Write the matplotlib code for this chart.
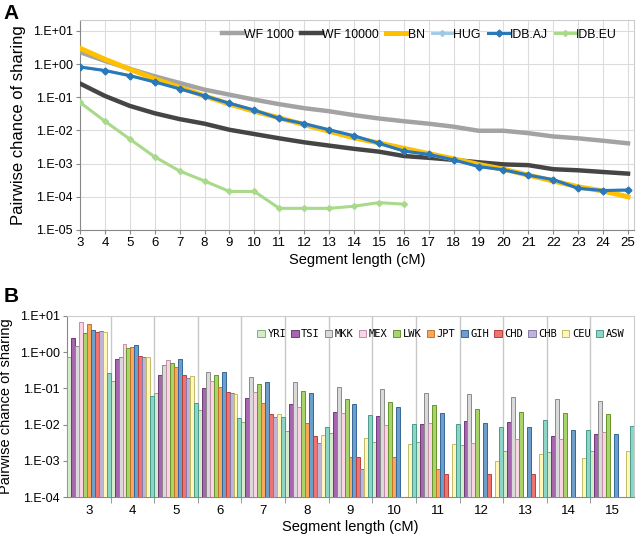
import numpy as np
import matplotlib
matplotlib.use('Agg')
import matplotlib.pyplot as plt
from matplotlib.ticker import FixedLocator, NullLocator

plt.rcParams['font.family'] = ['Liberation Sans', 'DejaVu Sans']

# ---- panel A data ----
seg_a = list(range(3, 26))
wf1000 = [2.3, 1.25, 0.72, 0.43, 0.27, 0.17, 0.12, 0.085, 0.062, 0.047, 0.038, 0.029,
          0.023, 0.019, 0.016, 0.013, 0.0098, 0.0098, 0.0083, 0.0066, 0.0058, 0.0049, 0.0041]
wf10000 = [0.26, 0.11, 0.055, 0.033, 0.022, 0.016, 0.0105, 0.0078, 0.0058, 0.0044, 0.0035,
           0.0028, 0.0023, 0.0017, 0.0015, 0.0013, 0.0011, 0.00095, 0.0009, 0.00068,
           0.00063, 0.00056, 0.0005]
bn = [3.0, 1.4, 0.7, 0.36, 0.2, 0.11, 0.062, 0.038, 0.024, 0.015, 0.0095, 0.006, 0.0042,
      0.0029, 0.002, 0.0014, 0.00095, 0.00068, 0.00045, 0.0003, 0.0002, 0.00015, 0.0001]
hug = [0.82, 0.64, 0.45, 0.29, 0.18, 0.11, 0.066, 0.041, 0.023, 0.016, 0.0105, 0.0069,
       0.0041, 0.0024, 0.0019, 0.0013, 0.00082, 0.00065, 0.00045, 0.00033, 0.00018,
       0.000155, 0.00016]
idb_aj = [0.82, 0.64, 0.45, 0.29, 0.18, 0.11, 0.066, 0.041, 0.023, 0.016, 0.0105, 0.0069,
          0.0041, 0.0024, 0.0019, 0.0013, 0.00082, 0.00065, 0.00045, 0.00033, 0.00018,
          0.000155, 0.00016]
seg_eu = list(range(3, 17))
idb_eu = [0.07, 0.019, 0.0055, 0.0016, 0.0006, 0.0003, 0.000145, 0.000145, 0.000045,
          0.000045, 0.000045, 0.000052, 0.000067, 0.00006]

# ---- panel B data ----
seg_b = list(range(3, 16))
pops = ['YRI', 'TSI', 'MKK', 'MEX', 'LWK', 'JPT', 'GIH', 'CHD', 'CHB', 'CEU', 'ASW']
nan = np.nan
yri = [0.72, 0.16, 0.074, 0.025, 0.0115, 0.0065, 0.006, 0.0034, 0.0034, 0.0028, 0.0019, 0.0017, 0.0019]
tsi = [2.4, 0.64, 0.23, 0.10, 0.055, 0.037, 0.022, 0.017, 0.0105, 0.0127, 0.0115, 0.0049, 0.0055]
mkk = [1.5, 0.72, 0.44, 0.29, 0.21, 0.147, 0.11, 0.095, 0.076, 0.069, 0.059, 0.05, 0.045]
mex = [6.7, 1.7, 0.59, 0.16, 0.081, 0.03, 0.021, 0.01, 0.0114, 0.0031, 0.0041, 0.0041, 0.0063]
lwk = [3.5, 1.3, 0.5, 0.23, 0.134, 0.083, 0.05, 0.041, 0.034, 0.027, 0.022, 0.0205, 0.0194]
jpt = [6.0, 1.36, 0.39, 0.108, 0.04, 0.011, 0.00126, 0.00126, 0.0006, nan, nan, nan, nan]
gih = [4.0, 1.55, 0.63, 0.28, 0.15, 0.075, 0.036, 0.031, 0.021, 0.011, 0.0087, 0.0069, 0.0056]
chd = [3.7, 0.79, 0.23, 0.078, 0.02, 0.0047, 0.00128, nan, 0.00042, 0.00042, 0.00042, nan, nan]
chb = [3.8, 0.76, 0.2, 0.075, 0.016, 0.0031, 0.0006, nan, nan, nan, nan, nan, nan]
ceu = [3.7, 0.76, 0.22, 0.068, 0.02, 0.0051, 0.0043, 0.0029, 0.0029, 0.001, 0.0015, 0.0012, 0.0019]
asw = [0.26, 0.06, 0.04, 0.0157, 0.0165, 0.0084, 0.018, 0.0105, 0.0105, 0.0084, 0.013, 0.0071, 0.0094]
series_b = [yri, tsi, mkk, mex, lwk, jpt, gih, chd, chb, ceu, asw]

fills = ['#d5eccb', '#a866b0', '#d9d9d9', '#fad3e5', '#a9d46a', '#f7a85c',
         '#6e9fcb', '#ef7470', '#bdb4d8', '#fff7b9', '#8dd5c6']
edges = ['#7fae72', '#6e3a78', '#8a8a8a', '#c090a8', '#66962a', '#c0762a',
         '#35679a', '#b8403c', '#8478a8', '#c4bb66', '#4c9a8a']

def efmt(v):
    e = int(round(np.log10(v)))
    return '1.E%+03d' % e

fig = plt.figure(figsize=(6.4, 5.34), dpi=100)

# ---------------- panel A ----------------
axA = fig.add_axes([80 / 640, (534 - 230) / 534, (634 - 80) / 640, (230 - 20) / 534])
axA.plot(seg_a, wf1000, color='#a3a3a3', lw=3.2, label='WF 1000', zorder=3)
axA.plot(seg_a, wf10000, color='#454545', lw=3.2, label='WF 10000', zorder=3)
axA.plot(seg_a, bn, color='#ffc000', lw=3.6, label='BN', zorder=4)
axA.plot(seg_a, hug, color='#9dc8e6', lw=2, marker='D', ms=3, label='HUG', zorder=5)
axA.plot(seg_a, idb_aj, color='#2a78b8', lw=2.2, marker='D', ms=3.5, label='IDB.AJ', zorder=6)
axA.plot(seg_eu, idb_eu, color='#a8da8a', lw=2.2, marker='D', ms=3, label='IDB.EU', zorder=5)
axA.set_yscale('log')
axA.set_ylim(1e-5, 10 ** 1.33)
axA.set_xlim(3, 25.24)
yt = [1e-5, 1e-4, 1e-3, 1e-2, 1e-1, 1, 10]
axA.yaxis.set_major_locator(FixedLocator(yt))
axA.yaxis.set_minor_locator(NullLocator())
axA.set_yticklabels([efmt(v) for v in yt], fontsize=9)
axA.set_xticks(seg_a)
axA.set_xticklabels([str(s) for s in seg_a], fontsize=9.5)
axA.grid(True, color='#dcdcdc', lw=0.8, zorder=0)
axA.tick_params(length=3, color='#888888', pad=2)
for s in axA.spines.values():
    s.set_color('#cccccc')
axA.spines['left'].set_color('#888888')
axA.spines['bottom'].set_color('#888888')
axA.set_xlabel('Segment length (cM)', fontsize=10.5, labelpad=3)
axA.set_ylabel('Pairwise chance of sharing', fontsize=12, labelpad=5)
axA.legend(loc='upper right', ncol=6, frameon=False, fontsize=8.8, handlelength=1.7,
           handletextpad=0.05, columnspacing=0.6, borderaxespad=0.3, bbox_to_anchor=(0.985, 1.0))
fig.text(0.005, 0.975, 'A', fontsize=15, fontweight='bold', va='center')

# ---------------- panel B ----------------
axB = fig.add_axes([67 / 640, (534 - 497) / 534, (634 - 67) / 640, (497 - 316) / 534])
xb = np.arange(len(seg_b))
w = 1 / 11
for i, (vals, name) in enumerate(zip(series_b, pops)):
    axB.bar(xb - 0.5 + (i + 0.5) * w, vals, width=w, color=fills[i], edgecolor=edges[i],
            linewidth=0.7, label=name, zorder=3)
axB.set_yscale('log')
axB.set_ylim(1e-4, 10)
axB.set_xlim(-0.5, len(seg_b) - 0.5)
ytb = [1e-4, 1e-3, 1e-2, 1e-1, 1, 10]
axB.yaxis.set_major_locator(FixedLocator(ytb))
axB.yaxis.set_minor_locator(NullLocator())
axB.set_yticklabels([efmt(v) for v in ytb], fontsize=9)
axB.set_xticks(xb)
axB.set_xticklabels([str(s) for s in seg_b], fontsize=9.5)
axB.set_xticks(xb[:-1] + 0.5, minor=True)
axB.tick_params(axis='x', which='major', length=0, pad=6)
axB.tick_params(axis='x', which='minor', length=4, color='#888888')
axB.tick_params(axis='y', length=3, color='#888888', pad=2)
axB.grid(True, axis='x', which='minor', color='#c8c8c8', lw=1.0, zorder=0)
for s in axB.spines.values():
    s.set_color('#cccccc')
axB.spines['left'].set_color('#888888')
axB.spines['bottom'].set_color('#888888')
axB.set_xlabel('Segment length (cM)', fontsize=10.5, labelpad=2)
axB.set_ylabel('Pairwise chance of sharing', fontsize=10.5, labelpad=5)
legB = axB.legend(loc='upper right', ncol=11, frameon=False, handlelength=0.7, handleheight=0.7,
                  handletextpad=0.25, columnspacing=0.5, borderaxespad=0.5,
                  prop={'family': 'DejaVu Sans Mono', 'size': 7.5}, bbox_to_anchor=(1.0, 0.98))
fig.text(0.005, 0.445, 'B', fontsize=15, fontweight='bold', va='center')

fig.savefig('out.png', dpi=100, facecolor='white')
